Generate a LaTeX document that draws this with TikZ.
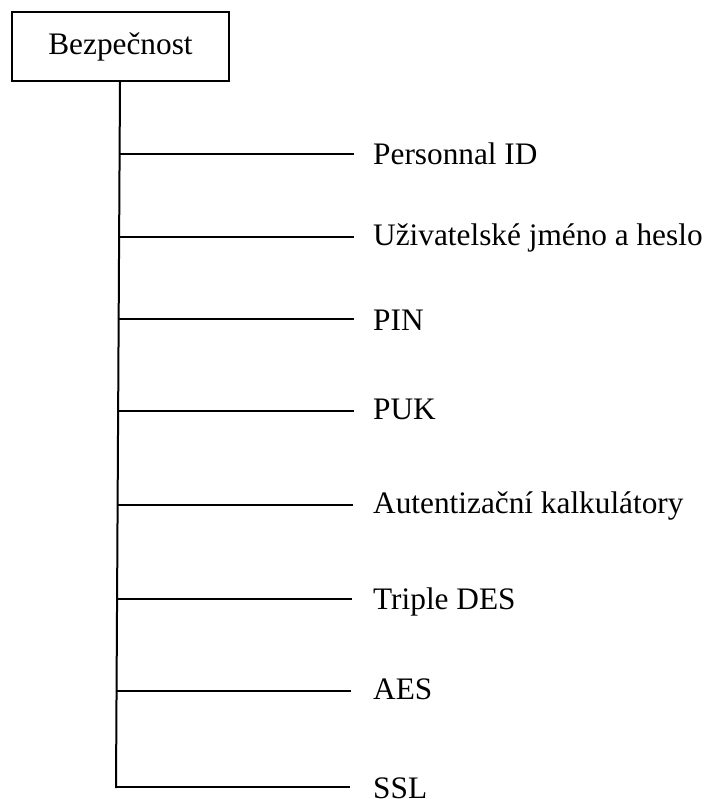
\documentclass[tikz,border=0pt]{standalone}
\usepackage{fontspec}
\setmainfont{Liberation Serif}
\begin{document}
\begin{tikzpicture}[x=1pt,y=-1pt,
  lbl/.style={anchor=base west,inner sep=0pt,font=\fontsize{31.3}{36}\selectfont},
  conn/.style={line width=2pt},
  rootbox/.style={draw,line width=2.2pt,minimum width=217pt,minimum height=69pt,inner sep=0pt,font=\fontsize{31.3}{36}\selectfont}]
\useasboundingbox (0,0) rectangle (713,799);
\node[rootbox] (root) at (120.5,46.5) {Bezpečnost};
\coordinate (top) at (120,81);
\coordinate (bot) at (116,788);
\draw[conn] (root.south -| top) -- (bot);
\foreach \i/\y/\xs/\xe/\b/\t in {
  1/154/119.7/354/165/Personnal ID,
  2/237/119.2/354/246/Uživatelské jméno a heslo,
  3/319/118.7/354/330/PIN,
  4/411/118.2/354/419/PUK,
  5/505/117.7/353/513/Autentizační kalkulátory,
  6/599/117.1/352/609/Triple DES,
  7/691/116.6/351/699/AES,
  8/787/116/350/798/SSL}{
  \coordinate (s\i) at (\xs,\y);
  \coordinate (e\i) at (\xe,\y);
  \node[lbl] (t\i) at (373,\b) {\t};
  \draw[conn] (s\i) -- (e\i);
}
\end{tikzpicture}
\end{document}
